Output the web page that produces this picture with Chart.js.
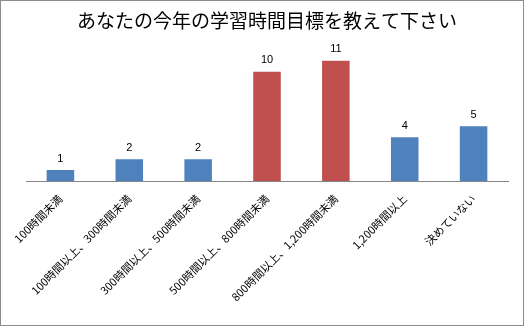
<!DOCTYPE html>
<html>
<head>
<meta charset="utf-8">
<script src="https://cdn.jsdelivr.net/npm/chart.js@4"></script>
<style>
  html, body { margin: 0; padding: 0; background: #fff; }
  #wrap { position: relative; width: 522px; height: 324px; border: 1px solid #8c8c8c; }
  canvas { display: block; }
</style>
</head>
<body>
<div id="wrap"><canvas id="goalChart" width="522" height="324"></canvas></div>
<script>
// Study-hour goals for this year
const categories = [
    '100時間未満',
    '100時間以上、300時間未満',
    '300時間以上、500時間未満',
    '500時間以上、800時間未満',
    '800時間以上、1,200時間未満',
    '1,200時間以上',
    '決めていない'
];
const counts = [1, 2, 2, 10, 11, 4, 5];
const barColors = ['#4f81bd', '#4f81bd', '#4f81bd', '#c0504d', '#c0504d', '#4f81bd', '#4f81bd'];

// Draw the count above each bar
const valueLabels = {
    id: 'valueLabels',
    afterDatasetsDraw(chart) {
        const ctx = chart.ctx;
        const meta = chart.getDatasetMeta(0);
        ctx.save();
        ctx.font = '11px "Liberation Sans", Arial, sans-serif';
        ctx.fillStyle = '#000';
        ctx.textAlign = 'center';
        ctx.textBaseline = 'bottom';
        meta.data.forEach((bar, i) => {
            ctx.fillText(counts[i], bar.x, bar.y - 6);
        });
        ctx.restore();
    }
};

new Chart(document.getElementById('goalChart'), {
    type: 'bar',
    data: {
        labels: categories,
        datasets: [{
            data: counts,
            backgroundColor: barColors,
            categoryPercentage: 1,
            barPercentage: 0.4
        }]
    },
    options: {
        responsive: false,
        animation: false,
        layout: { padding: { left: 25, right: 15, bottom: 4, top: 0 } },
        plugins: {
            legend: { display: false },
            tooltip: { enabled: false },
            title: {
                display: true,
                text: 'あなたの今年の学習時間目標を教えて下さい',
                color: '#000',
                font: { family: '"Noto Sans CJK JP", sans-serif', size: 19, weight: 'normal' },
                padding: { top: 8, bottom: 18 }
            }
        },
        scales: {
            y: {
                display: false,
                min: 0,
                max: 12
            },
            x: {
                grid: { display: false, drawTicks: false },
                border: { color: '#868686', width: 1 },
                ticks: {
                    minRotation: 45,
                    maxRotation: 45,
                    color: '#000',
                    padding: 11,
                    font: { family: '"Noto Sans CJK JP", sans-serif', size: 11 }
                },
                afterFit(scale) { scale.height = 140; }
            }
        }
    },
    plugins: [valueLabels]
});
</script>
</body>
</html>
